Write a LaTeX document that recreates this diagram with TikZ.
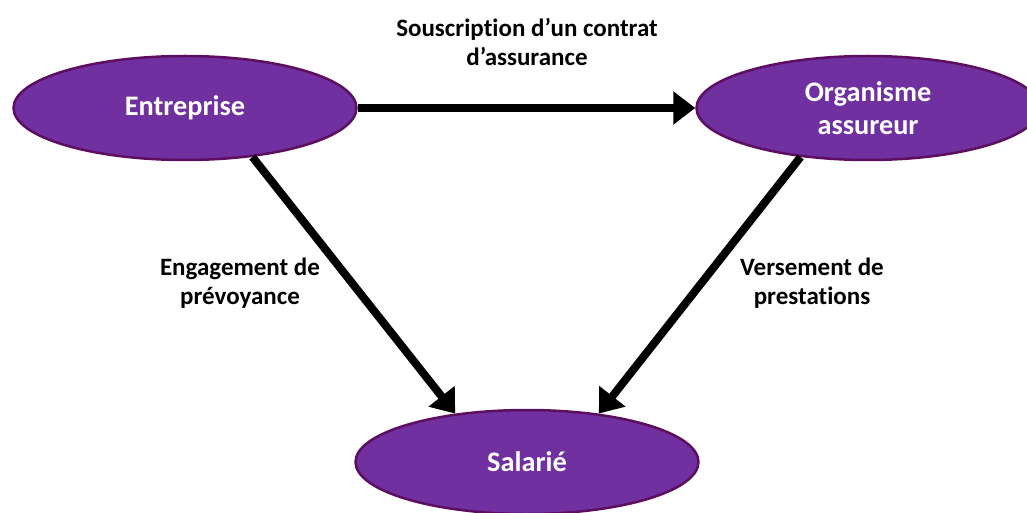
\documentclass[tikz,border=0pt]{standalone}
\usepackage{fontspec}
\setmainfont{Carlito}[Ligatures=NoCommon]
\usetikzlibrary{shapes.geometric,arrows.meta}
\definecolor{violet}{HTML}{7030A0}
\definecolor{violetdark}{HTML}{5C0F5E}
\tikzset{
  acteur/.style={ellipse, draw=violetdark, line width=2.5pt, fill=violet,
    text=white, font=\fontsize{28.3}{33}\selectfont\bfseries, align=center,
    minimum width=343pt, minimum height=104pt, inner sep=0pt},
  lien/.style={line width=8pt, -{Triangle[length=22pt,width=32pt]}},
  texte/.style={font=\fontsize{25}{29.5}\selectfont\bfseries, align=center}
}
\begin{document}
\begin{tikzpicture}[x=1pt,y=-1pt]
    \useasboundingbox (0,0) rectangle (1027,513);
    \clip (0,0) rectangle (1027,513);
      \node[acteur] (ent) at (185,108) {Entreprise};
      \node[acteur] (org) at (868,108) {Organisme\\assureur};
      \node[acteur] (sal) at (527,462) {Salarié};
      \node[texte] (souscr) at (527,42) {Souscription d’un contrat\\d’assurance};
      \node[texte] (engag) at (240,283) {Engagement de\\prévoyance};
      \node[texte] (verst) at (812,283) {Versement de\\prestations};
      \draw[lien] (ent.east) to (org.west);
      \draw[lien] (ent.-36) to (sal.146);
      \draw[lien] (org.-144) to (sal.34);
  \end{tikzpicture}
\end{document}
